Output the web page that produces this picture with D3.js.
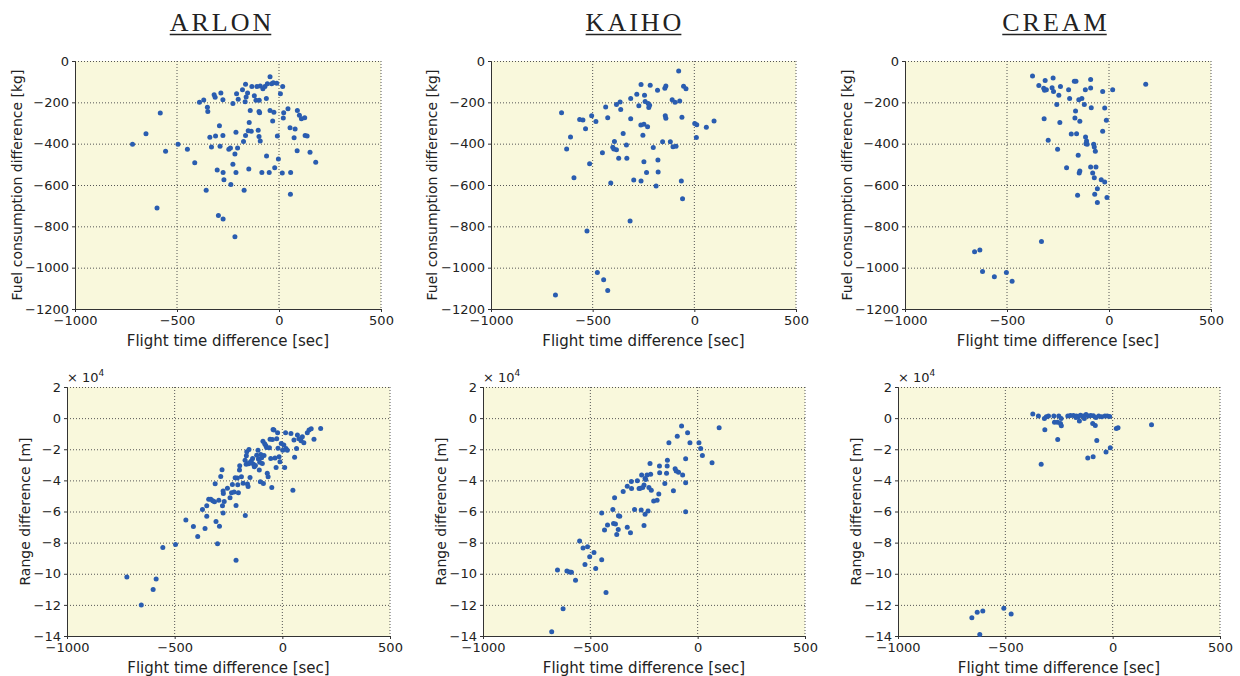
<!DOCTYPE html>
<html>
<head>
<meta charset="utf-8">
<script src="https://cdnjs.cloudflare.com/ajax/libs/d3/7.8.5/d3.min.js"></script>
<style>
body { margin: 0; background: #fff; }
.tick text { font-family: "DejaVu Sans", sans-serif; font-size: 13px; fill: #222; }
</style>
</head>
<body>
<div id="chart"></div>
<script>
var airlines = ["ARLON", "KAIHO", "CREAM"];
var xTicks = [-1000, -500, 0, 500];
var fuelTicks = [0, -200, -400, -600, -800, -1000, -1200];
var rangeTicks = [2, 0, -2, -4, -6, -8, -10, -12, -14];   // x 10^4 m

// [flight time difference (sec), fuel consumption difference (kg)]
var arlonFuel = [
  [-718,-403],[-652,-352],[-582,-252],[-556,-437],[-598,-711],[-495,-403],[-449,-427],[-413,-492],
  [-390,-200],[-369,-189],[-351,-224],[-349,-244],[-339,-369],[-331,-416],[-357,-626],[-318,-163],
  [-313,-176],[-311,-363],[-285,-155],[-275,-187],[-292,-313],[-289,-413],[-275,-360],[-303,-527],
  [-274,-539],[-270,-574],[-297,-747],[-274,-765],[-246,-427],[-238,-421],[-226,-206],[-216,-450],
  [-226,-500],[-236,-597],[-211,-345],[-208,-158],[-200,-185],[-203,-421],[-211,-539],[-216,-850],
  [-179,-139],[-164,-113],[-154,-155],[-161,-174],[-166,-197],[-164,-360],[-174,-389],[-171,-626],
  [-151,-337],[-146,-297],[-141,-240],[-133,-123],[-148,-523],[-136,-340],[-121,-168],[-113,-190],
  [-108,-123],[-97,-190],[-102,-335],[-98,-365],[-98,-244],[-92,-387],[-95,-250],[-92,-121],
  [-84,-539],[-79,-134],[-69,-123],[-62,-181],[-61,-460],[-57,-110],[-48,-540],[-44,-239],
  [-44,-76],[-36,-110],[-31,-290],[-28,-105],[-25,-248],[-21,-516],[-11,-108],[-8,-363],
  [-3,-474],[7,-158],[18,-123],[16,-542],[23,-250],[21,-276],[44,-231],[54,-323],
  [57,-540],[56,-645],[74,-371],[79,-329],[90,-239],[89,-434],[100,-263],[110,-279],
  [126,-274],[128,-360],[138,-363],[152,-442],[180,-490]
];
var kaihoFuel = [
  [-683,-1132],[-653,-251],[-628,-426],[-609,-368],[-592,-565],[-564,-283],[-548,-285],[-535,-328],
  [-528,-822],[-515,-497],[-505,-265],[-484,-293],[-477,-1023],[-452,-444],[-446,-1058],[-436,-222],
  [-426,-275],[-426,-1110],[-411,-590],[-401,-417],[-396,-426],[-393,-389],[-383,-430],[-383,-211],
  [-372,-470],[-365,-198],[-362,-235],[-350,-351],[-334,-407],[-332,-471],[-316,-774],[-313,-182],
  [-313,-280],[-298,-576],[-283,-161],[-273,-217],[-262,-114],[-263,-310],[-262,-581],[-253,-359],
  [-248,-306],[-245,-166],[-248,-487],[-242,-196],[-235,-539],[-230,-318],[-227,-206],[-224,-225],
  [-220,-214],[-217,-117],[-202,-418],[-188,-605],[-181,-142],[-179,-479],[-178,-537],[-156,-391],
  [-145,-132],[-140,-121],[-143,-265],[-140,-277],[-118,-391],[-109,-188],[-105,-415],[-95,-199],
  [-90,-412],[-77,-48],[-72,-193],[-64,-581],[-61,-272],[-58,-666],[-53,-122],[-41,-134],
  [2,-302],[12,-309],[10,-370],[59,-320],[97,-290]
];
var creamFuel = [
  [-375,-73],[-344,-118],[-320,-132],[-313,-94],[-316,-142],[-307,-139],[-318,-279],[-298,-384],
  [-331,-873],[-279,-129],[-274,-82],[-272,-147],[-256,-211],[-246,-166],[-238,-123],[-241,-297],
  [-252,-427],[-208,-516],[-198,-139],[-193,-182],[-185,-353],[-170,-98],[-162,-98],[-164,-242],
  [-167,-276],[-159,-352],[-154,-650],[-151,-456],[-148,-187],[-143,-292],[-146,-542],[-143,-532],
  [-133,-182],[-121,-211],[-116,-139],[-115,-368],[-110,-387],[-113,-400],[-107,-403],[-90,-90],
  [-90,-131],[-87,-226],[-90,-513],[-80,-542],[-75,-403],[-72,-416],[-72,-565],[-70,-645],
  [-67,-437],[-64,-513],[-57,-618],[-57,-685],[-38,-574],[-31,-147],[-31,-340],[-21,-227],
  [-21,-585],[-13,-287],[-10,-661],[18,-139],[180,-113],[-659,-923],[-633,-915],[-620,-1018],
  [-562,-1044],[-503,-1023],[-475,-1066]
];

// [flight time difference (sec), range difference (x 10^4 m)]
var arlonRange = [
  [-722,-10.21],[-655,-12.01],[-600,-11.01],[-586,-10.34],[-555,-8.31],[-496,-8.12],[-448,-6.55],[-413,-6.96],
  [-393,-7.60],[-371,-5.87],[-359,-7.09],[-351,-5.63],[-351,-6.30],[-342,-5.22],[-332,-5.22],[-323,-5.31],
  [-315,-5.37],[-312,-4.22],[-308,-6.64],[-301,-8.07],[-295,-5.27],[-292,-6.94],[-286,-3.75],[-280,-3.32],
  [-278,-5.63],[-275,-4.69],[-275,-6.10],[-274,-4.84],[-270,-5.35],[-255,-4.50],[-243,-5.12],[-236,-4.80],
  [-232,-4.26],[-224,-4.75],[-219,-3.83],[-215,-9.14],[-215,-5.61],[-209,-3.85],[-207,-4.28],[-204,-4.80],
  [-199,-3.34],[-198,-3.06],[-190,-3.77],[-182,-4.18],[-173,-2.70],[-172,-6.25],[-168,-2.96],[-167,-2.42],
  [-165,-2.16],[-162,-4.24],[-159,-4.39],[-156,-2.93],[-155,-2.01],[-153,-2.87],[-150,-3.81],[-144,-2.76],
  [-138,-2.59],[-134,-2.96],[-130,-3.13],[-125,-3.04],[-119,-2.38],[-113,-2.06],[-111,-2.63],[-107,-3.34],
  [-105,-2.83],[-102,-4.09],[-100,-2.33],[-96,-2.55],[-93,-2.91],[-90,-1.48],[-88,-4.20],[-85,-2.40],
  [-82,-1.65],[-77,-1.76],[-73,-1.88],[-70,-3.55],[-66,-3.77],[-60,-1.91],[-57,-1.35],[-54,-2.59],
  [-49,-4.45],[-46,-1.37],[-43,-0.73],[-39,-0.77],[-34,-2.57],[-29,-3.17],[-26,-1.33],[-22,-0.94],
  [-20,-1.93],[-15,-2.48],[-11,-2.81],[-5,-1.63],[2,-2.06],[7,-1.73],[11,-3.17],[15,-0.94],
  [17,-1.95],[23,-2.06],[40,-0.99],[49,-4.63],[54,-1.41],[57,-2.51],[66,-1.95],[70,-1.09],
  [77,-1.33],[87,-1.46],[93,-1.20],[100,-1.58],[116,-0.94],[124,-0.77],[134,-0.69],[147,-1.35],
  [178,-0.66]
];
var kaihoRange = [
  [-680,-13.73],[-653,-9.76],[-627,-12.25],[-609,-9.83],[-597,-9.89],[-588,-9.91],[-569,-10.41],[-550,-7.90],
  [-534,-8.35],[-525,-9.40],[-513,-8.27],[-503,-8.91],[-483,-8.63],[-475,-9.66],[-447,-9.10],[-447,-6.10],
  [-434,-7.19],[-427,-11.20],[-420,-6.87],[-395,-5.87],[-392,-6.77],[-387,-5.12],[-383,-6.81],[-377,-7.47],
  [-370,-7.15],[-369,-6.27],[-363,-6.30],[-347,-4.71],[-328,-4.37],[-328,-7.02],[-313,-7.37],[-309,-4.07],
  [-308,-4.52],[-294,-5.87],[-281,-4.03],[-273,-4.52],[-267,-4.50],[-263,-5.91],[-261,-3.66],[-256,-4.45],
  [-250,-4.30],[-250,-6.90],[-245,-3.88],[-245,-6.17],[-242,-3.94],[-236,-3.66],[-231,-5.97],[-227,-4.45],
  [-222,-2.91],[-219,-3.60],[-216,-4.63],[-205,-5.33],[-189,-5.27],[-181,-4.88],[-178,-3.08],[-177,-3.51],
  [-153,-4.20],[-145,-3.55],[-142,-3.08],[-141,-2.70],[-134,-1.58],[-113,-4.67],[-105,-3.25],[-100,-3.40],
  [-95,-1.16],[-89,-3.47],[-75,-0.51],[-70,-3.66],[-56,-2.61],[-56,-4.15],[-56,-6.02],[-47,-0.94],
  [-36,-1.58],[6,-1.58],[14,-1.95],[22,-2.40],[67,-2.87],[100,-0.62]
];
var creamRange = [
  [-372,0.26],[-346,0.13],[-318,-0.02],[-309,0.09],[-299,0.13],[-274,0.13],[-251,0.13],[-209,0.13],
  [-197,0.17],[-183,0.17],[-169,0.13],[-160,0.09],[-150,0.19],[-138,0.13],[-124,0.24],[-113,0.13],
  [-102,0.17],[-90,0.15],[-78,0.04],[-65,0.13],[-51,0.09],[-36,0.13],[-25,0.13],[-14,0.11],
  [-171,0.04],[-132,-0.02],[-240,-0.02],[-316,-0.75],[-271,-0.26],[-257,-0.26],[-243,-0.34],[-239,-0.49],
  [-256,-1.37],[-333,-2.96],[-155,-0.19],[-93,-0.34],[-81,-0.47],[-74,-1.43],[-116,-2.57],[-91,-2.48],
  [-31,-2.18],[-11,-1.91],[17,-0.66],[25,-0.62],[181,-0.43],[-656,-12.83],[-631,-12.48],[-605,-12.40],
  [-619,-13.90],[-507,-12.21],[-473,-12.59]
];

var width = 1240, height = 676;
var bgColor = "#f9f8dc", dotColor = "#2a5db0";

var svg = d3.select("#chart")
    .append("svg")
    .attr("width", width)
    .attr("height", height);

function drawScatter(box, data, yDomain, yTicks, yLabel, showExp) {
    var x = d3.scaleLinear().domain([-1000, 500]).range([box.left, box.right]);
    var y = d3.scaleLinear().domain(yDomain).range([box.bottom, box.top]);
    var fmt = d3.format("d");

    var g = svg.append("g");

    g.append("rect")
        .attr("x", box.left)
        .attr("y", box.top)
        .attr("width", box.right - box.left)
        .attr("height", box.bottom - box.top)
        .attr("fill", bgColor);

    // dotted grid (top and right edge are grid lines too)
    g.append("g").selectAll("line")
        .data(xTicks.slice(1))
        .enter().append("line")
        .attr("x1", function(d) { return x(d); })
        .attr("x2", function(d) { return x(d); })
        .attr("y1", box.top)
        .attr("y2", box.bottom)
        .attr("stroke", "#555")
        .attr("stroke-width", 1)
        .attr("stroke-dasharray", "1,2");

    g.append("g").selectAll("line")
        .data(yTicks.slice(0, -1))
        .enter().append("line")
        .attr("x1", box.left)
        .attr("x2", box.right)
        .attr("y1", function(d) { return y(d) + 0.5; })
        .attr("y2", function(d) { return y(d) + 0.5; })
        .attr("stroke", "#555")
        .attr("stroke-width", 1)
        .attr("stroke-dasharray", "1,2");

    g.append("g")
        .attr("transform", "translate(0," + box.bottom + ")")
        .call(d3.axisBottom(x).tickValues(xTicks).tickFormat(fmt).tickSize(3).tickSizeOuter(0).tickPadding(4))
        .call(function(a) { a.selectAll("path, line").attr("stroke", "#333"); });

    g.append("g")
        .attr("transform", "translate(" + box.left + ",0)")
        .call(d3.axisLeft(y).tickValues(yTicks).tickFormat(fmt).tickSize(3).tickSizeOuter(0).tickPadding(3))
        .call(function(a) { a.selectAll("path, line").attr("stroke", "#333"); });

    g.append("g").selectAll("circle")
        .data(data)
        .enter().append("circle")
        .attr("cx", function(d) { return x(d[0]); })
        .attr("cy", function(d) { return y(d[1]); })
        .attr("r", 2.5)
        .attr("fill", dotColor);

    g.append("text")
        .attr("x", (box.left + box.right) / 2)
        .attr("y", box.bottom + 37)
        .attr("text-anchor", "middle")
        .attr("font-family", "DejaVu Sans, sans-serif")
        .attr("font-size", 15)
        .attr("fill", "#222")
        .text("Flight time difference [sec]");

    g.append("text")
        .attr("transform", "translate(" + (box.left - box.labelGap) + "," + (box.top + box.bottom) / 2 + ") rotate(-90)")
        .attr("text-anchor", "middle")
        .attr("font-family", "DejaVu Sans, sans-serif")
        .attr("font-size", 14)
        .attr("fill", "#222")
        .text(yLabel);

    if (showExp) {
        var t = g.append("text")
            .attr("x", box.left)
            .attr("y", box.top - 5)
            .attr("font-family", "DejaVu Sans, sans-serif")
            .attr("font-size", 13)
            .attr("fill", "#222");
        t.append("tspan").text("× 10");
        t.append("tspan").attr("font-size", 9).attr("dy", -6).text("4");
    }
}

var topBoxes = [
    {left: 75, right: 381, top: 61, bottom: 309, labelGap: 53},
    {left: 491, right: 796, top: 61, bottom: 309, labelGap: 54},
    {left: 905, right: 1211, top: 61, bottom: 309, labelGap: 53}
];
var bottomBoxes = [
    {left: 67, right: 390, top: 387, bottom: 636, labelGap: 37},
    {left: 483, right: 805, top: 387, bottom: 636, labelGap: 37},
    {left: 898, right: 1220, top: 387, bottom: 636, labelGap: 37}
];
var titleX = [222, 635, 1056];
var fuelSets = [arlonFuel, kaihoFuel, creamFuel];
var rangeSets = [arlonRange, kaihoRange, creamRange];

airlines.forEach(function(name, i) {
    drawScatter(topBoxes[i], fuelSets[i], [-1200, 0], fuelTicks, "Fuel consumption difference [kg]", false);
    drawScatter(bottomBoxes[i], rangeSets[i], [-14, 2], rangeTicks, "Range difference [m]", true);

    var title = svg.append("text")
        .attr("x", titleX[i])
        .attr("y", 31)
        .attr("text-anchor", "middle")
        .attr("font-family", "Liberation Serif, serif")
        .attr("font-size", 26)
        .attr("letter-spacing", 3)
        .attr("fill", "#222")
        .text(name);

    var bb = title.node().getBBox();
    svg.append("line")
        .attr("x1", bb.x)
        .attr("x2", bb.x + bb.width - 3)
        .attr("y1", 34.5)
        .attr("y2", 34.5)
        .attr("stroke", "#222")
        .attr("stroke-width", 1.5);
});
</script>
</body>
</html>
